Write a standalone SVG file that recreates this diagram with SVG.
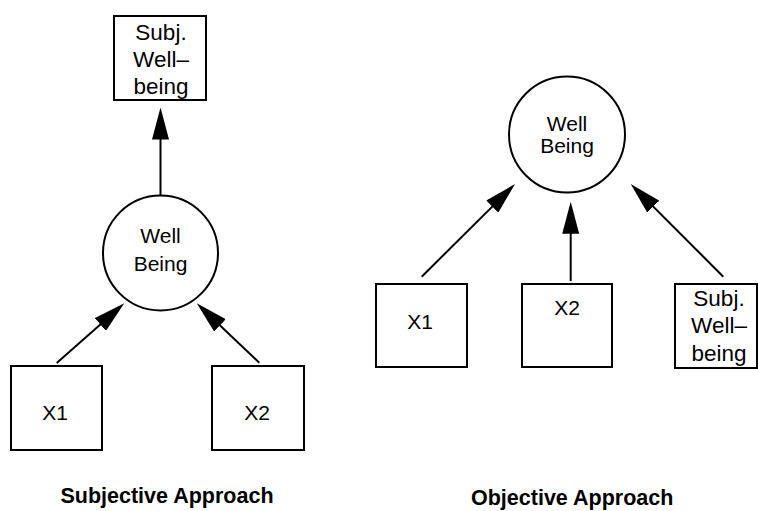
<svg xmlns="http://www.w3.org/2000/svg" width="758" height="511" viewBox="0 0 758 511">
<style>
.box{fill:#fff;stroke:#000;stroke-width:2}
.circ{fill:#fff;stroke:#000;stroke-width:2}
.t{font-family:"Liberation Sans",Arial,sans-serif;font-size:21px;fill:#000;text-anchor:middle}
.sw{font-size:22.5px}
.title{font-family:"Liberation Sans",Arial,sans-serif;font-weight:bold;font-size:21.5px;fill:#000}
.edge{stroke:#000;stroke-width:2;fill:none;marker-end:url(#ah)}
</style>
<defs>
<marker id="ah" markerUnits="userSpaceOnUse" markerWidth="32" markerHeight="17" refX="22" refY="8.5" orient="auto">
<path d="M0,0 L32,8.5 L0,17 z" fill="#000"/>
</marker>
</defs>
<g id="connectors">
<line class="edge" x1="160.5" y1="196" x2="160.5" y2="117.5"/>
<line class="edge" x1="56.7" y1="363" x2="116.8" y2="309.9"/>
<line class="edge" x1="259.3" y1="362.7" x2="204" y2="310.2"/>
<line class="edge" x1="421.7" y1="276.7" x2="507.9" y2="191.1"/>
<line class="edge" x1="570.7" y1="281" x2="570.7" y2="211.7"/>
<line class="edge" x1="723.3" y1="276.7" x2="637.8" y2="191.1"/>
</g>
<g id="s_subj">
<rect class="box" x="114" y="16" width="92" height="84"/>
<text class="t sw" x="161" y="40">Subj.</text>
<text class="t sw" x="161" y="67">Well–</text>
<text class="t sw" x="161" y="94">being</text>
</g>
<g id="s_well">
<circle class="circ" cx="160.5" cy="253" r="57.5"/>
<text class="t" x="160.5" y="243">Well</text>
<text class="t" x="160.5" y="271">Being</text>
</g>
<g id="s_x1">
<rect class="box" x="11" y="366" width="91" height="84"/>
<text class="t" x="55" y="420">X1</text>
</g>
<g id="s_x2">
<rect class="box" x="212" y="366" width="92" height="84"/>
<text class="t" x="257" y="420">X2</text>
</g>
<g id="o_well">
<circle class="circ" cx="567" cy="134.5" r="58"/>
<text class="t" x="567" y="131">Well</text>
<text class="t" x="567" y="153">Being</text>
</g>
<g id="o_x1">
<rect class="box" x="376" y="284" width="91" height="83"/>
<text class="t" x="420" y="329">X1</text>
</g>
<g id="o_x2">
<rect class="box" x="522" y="284" width="90" height="83"/>
<text class="t" x="567" y="315">X2</text>
</g>
<g id="o_subj">
<rect class="box" x="675" y="284" width="82" height="84"/>
<text class="t sw" x="719" y="306">Subj.</text>
<text class="t sw" x="719" y="333">Well–</text>
<text class="t sw" x="719" y="361">being</text>
</g>
<g id="titles">
<text class="title" x="167" y="503" text-anchor="middle">Subjective Approach</text>
<text class="title" x="471" y="505">Objective Approach</text>
</g>
</svg>
